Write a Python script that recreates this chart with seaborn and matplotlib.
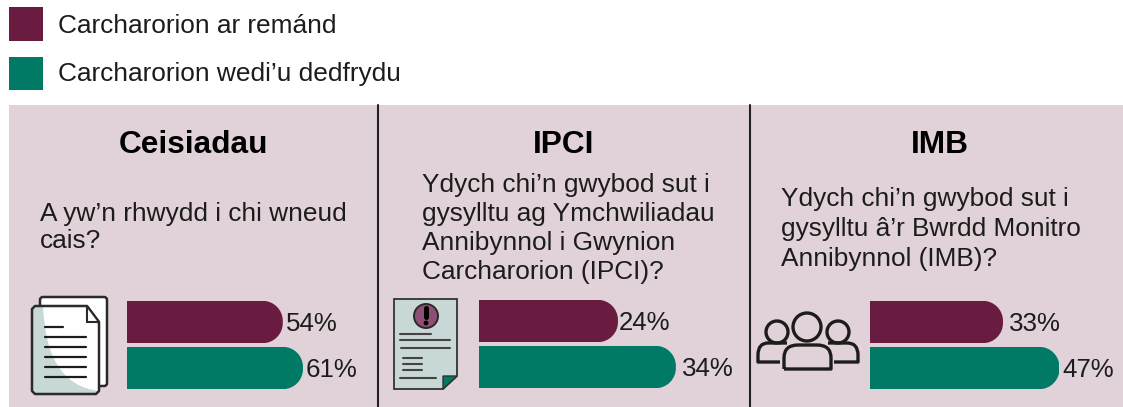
import matplotlib
matplotlib.use("Agg")
import matplotlib.pyplot as plt
import pandas as pd
import seaborn as sns
from matplotlib.patches import Circle, FancyBboxPatch, PathPatch, Polygon, Rectangle
from matplotlib.path import Path
from matplotlib.transforms import IdentityTransform

# Data
GROUPS = ["Carcharorion ar remánd", "Carcharorion wedi’u dedfrydu"]
TITLES = ["Ceisiadau", "IPCI", "IMB"]
QUESTIONS = [
    "A yw’n rhwydd i chi wneud\ncais?",
    "Ydych chi’n gwybod sut i\ngysylltu ag Ymchwiliadau\nAnnibynnol i Gwynion\nCarcharorion (IPCI)?",
    "Ydych chi’n gwybod sut i\ngysylltu â’r Bwrdd Monitro\nAnnibynnol (IMB)?",
]
REMAND = [54, 24, 33]
SENTENCED = [61, 34, 47]

# Layout, in pixels of the 1123x407 picture
W, H = 1123, 407
PURPLE = "#691c3f"
GREEN = "#007a65"
PANEL_BG = "#e1d2d9"
PALE = "#c8d8d6"
INK = "#1c1c1c"
BAR_LEFT = [127, 479, 870]
BAR_TOP = [299, 298, 299]
PX_PER_PCT = [2.885, 5.79, 4.03]
PADDING = [(2.5, 2), (0.5, 4.5), (4.5, 2)]
TITLE_X = [194, 564, 940]
QUESTION_X = [40, 422, 781]
QUESTION_Y = [227.5, 228.5, 229]
QUESTION_SPACING = [1.2, 1.27, 1.34]
ROW_PX = 46

sns.set_style("white")
plt.rcParams["font.family"] = ["Liberation Sans", "DejaVu Sans"]

fig = plt.figure(figsize=(W / 100, H / 100), dpi=100)
bg = fig.add_axes([0, 0, 1, 1])
bg.set_xlim(0, W)
bg.set_ylim(H, 0)
bg.axis("off")

M, L, C3, C4 = Path.MOVETO, Path.LINETO, Path.CURVE3, Path.CURVE4


def line(x0, x1, y, color=INK, lw=1.6):
    bg.plot([x0, x1], [y, y], color=color, lw=lw, solid_capstyle="round")


def curve(points, codes, fc="none", lw=2.4, ec=INK):
    bg.add_patch(PathPatch(Path(points, codes), fc=fc, ec=ec, lw=lw, joinstyle="round"))


def draw_documents():
    bg.add_patch(FancyBboxPatch((40, 297), 67, 89, boxstyle="round,pad=0,rounding_size=3",
                                fc="white", ec="#2a2a2a", lw=1.8))
    outline = [(35, 306), (87, 306), (99, 322), (99, 391), (96, 394), (35, 394), (32, 391), (32, 309), (35, 306)]
    bg.add_patch(Polygon(outline, closed=True, fc="white", ec="none"))
    # pale shading in the lower left of the front sheet
    curve([(32, 306), (43, 306), (46, 385), (99, 391), (99, 394), (32, 394), (32, 306)],
          [M, L, C3, C3, L, L, L], fc=PALE, lw=0, ec="none")
    bg.add_patch(Polygon(outline, closed=True, fc="none", ec="#2a2a2a", lw=1.8, joinstyle="round"))
    bg.add_patch(Polygon([(87, 306), (87, 322), (99, 322)], closed=True, fc="white", ec="#2a2a2a", lw=1.5))
    line(45, 63, 327)
    for y in [337, 347, 357, 367, 377]:
        line(45, 86, y)


def draw_notice():
    bg.add_patch(Polygon([(394, 299), (457, 299), (457, 376), (443, 389), (394, 389)], closed=True,
                         fc=PALE, ec="#333333", lw=1.3))
    bg.add_patch(Polygon([(443, 376), (457, 376), (443, 389)], closed=True, fc=GREEN, ec="#333333", lw=1))
    bg.add_patch(Circle((426, 316), 12, fc="#8f4f75", ec="#2a2a2a", lw=1.4))
    bg.plot([426, 426], [308, 317], color="black", lw=3.6, solid_capstyle="round")
    bg.add_patch(Circle((426, 323), 2.4, fc="black", ec="none"))
    for x0, x1, y in [(400, 431, 334), (400, 450, 340), (401, 450, 348), (403, 422, 358),
                      (403, 422, 364), (403, 422, 370), (400, 436, 378)]:
        line(x0, x1, y, color="#444444", lw=1.5)


def draw_people():
    for x, y, r in [(807, 327, 14), (777, 332, 11), (838, 332, 11)]:
        bg.add_patch(Circle((x, y), r, fc="none", ec=INK, lw=2.4))
    curve([(784, 369), (784, 358), (784, 345), (798, 345), (817, 345), (831, 345), (831, 358), (831, 369), (784, 369)],
          [M, L, C3, C3, L, C3, C3, L, L])
    curve([(787, 343), (768, 343), (758, 343), (758, 355), (758, 362), (780, 362)], [M, L, C3, C3, L, L])
    curve([(828, 343), (847, 343), (858, 343), (858, 355), (858, 362), (834, 362)], [M, L, C3, C3, L, L])


def rounded_end(box, r=20):
    # square on the left, circular corners on the right (display coordinates)
    k = 0.55 * r
    x0, x1, y0, y1 = box.x0 - 1, box.x1, box.y0, box.y1
    points = [(x0, y0), (x1 - r, y0), (x1 - r + k, y0), (x1, y0 + r - k), (x1, y0 + r),
              (x1, y1 - r), (x1, y1 - r + k), (x1 - r + k, y1), (x1 - r, y1), (x0, y1), (x0, y0)]
    codes = [M, L, C4, C4, C4, L, C4, C4, C4, L, L]
    return Path(points, codes)


# legend squares and labels
bg.add_patch(Rectangle((9, 7), 34, 34, fc=PURPLE, ec="none"))
bg.add_patch(Rectangle((9, 57), 34, 33, fc=GREEN, ec="none"))
bg.text(58, 26, GROUPS[0], fontsize=18.9, color=INK, va="center")
bg.text(58, 74, GROUPS[1], fontsize=18.9, color=INK, va="center")

# panel background and dividers
bg.add_patch(Rectangle((9, 105), W - 9, H - 105, fc=PANEL_BG, ec="none"))
for x in [378, 750]:
    bg.plot([x, x], [105, H], color="#222222", lw=1.5)

for i in range(3):
    bg.text(TITLE_X[i], 145, TITLES[i], fontsize=22.8, fontweight="bold", color="black",
            ha="center", va="center")
    bg.text(QUESTION_X[i], QUESTION_Y[i], QUESTIONS[i], fontsize=18.9, color=INK, va="center",
            linespacing=QUESTION_SPACING[i])

draw_documents()
draw_notice()
draw_people()

# one small bar chart per panel
for i in range(3):
    df = pd.DataFrame({"group": GROUPS, "pct": [REMAND[i], SENTENCED[i]]})
    width_px = 100 * PX_PER_PCT[i]
    ax = fig.add_axes([BAR_LEFT[i] / W, 1 - (BAR_TOP[i] + 2 * ROW_PX) / H, width_px / W, 2 * ROW_PX / H])
    ax.patch.set_alpha(0)
    sns.barplot(data=df, x="pct", y="group", hue="group", palette=[PURPLE, GREEN], width=0.92,
                saturation=1, linewidth=0, dodge=False, legend=False, ax=ax)
    ax.set_xlim(0, 100)
    ax.axis("off")
    for container, pad in zip(ax.containers, PADDING[i]):
        for label in ax.bar_label(container, fmt="%g%%", padding=pad, fontsize=18.6, color=INK):
            label.xyann = (label.xyann[0], -1.5)
    # round off the right end of each bar
    fig.canvas.draw()
    for bar in ax.patches:
        bar.set_clip_path(rounded_end(bar.get_window_extent()), IdentityTransform())

fig.savefig("out.png", dpi=100)
